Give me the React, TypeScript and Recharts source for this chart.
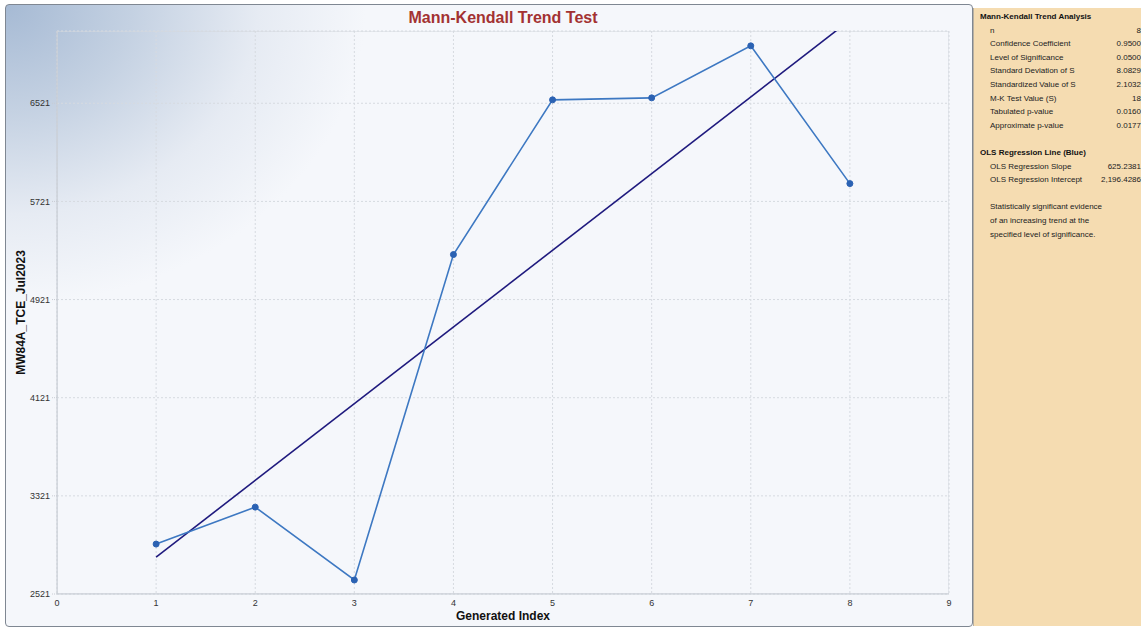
import { LineChart, Line, XAxis, YAxis, CartesianGrid, ReferenceLine, ReferenceArea } from "recharts";

const INDEX = [1, 2, 3, 4, 5, 6, 7, 8];
const TCE = [2928, 3229, 2635, 5288, 6549, 6565, 6989, 5866];
const X_TICKS = [0, 1, 2, 3, 4, 5, 6, 7, 8, 9];
const Y_TICKS = [2521, 3321, 4121, 4921, 5721, 6521];
const Y_MIN = 2521;
const Y_MAX = 7110;

const OLS_SLOPE = 625.2381;
const OLS_INTERCEPT = 2196.4286;

const MK_LABELS = [
  "n",
  "Confidence Coefficient",
  "Level of Significance",
  "Standard Deviation of S",
  "Standardized Value of S",
  "M-K Test Value (S)",
  "Tabulated p-value",
  "Approximate p-value",
];
const MK_VALUES = ["8", "0.9500", "0.0500", "8.0829", "2.1032", "18", "0.0160", "0.0177"];
const OLS_LABELS = ["OLS Regression Slope", "OLS Regression Intercept"];
const OLS_VALUES = ["625.2381", "2,196.4286"];
const CONCLUSION = [
  "Statistically significant evidence",
  "of an increasing trend at the",
  "specified level of significance.",
];

const FONT = "'Liberation Sans', Arial, sans-serif";

const data = INDEX.map((x, i) => ({ x, y: TCE[i] }));
const olsAt = (x: number) => OLS_INTERCEPT + OLS_SLOPE * x;

function Row({ label, value }: { label: string; value?: string }) {
  return (
    <div style={{ display: "flex", justifyContent: "space-between", paddingLeft: 10 }}>
      <span>{label}</span>
      {value && <span>{value}</span>}
    </div>
  );
}

export default function App() {
  return (
    <div
      style={{
        position: "absolute",
        left: 0,
        top: 0,
        width: 1141,
        height: 630,
        background: "#ffffff",
        fontFamily: FONT,
        overflow: "hidden",
      }}
    >
      <div
        style={{
          position: "absolute",
          left: 5,
          top: 4,
          width: 968,
          height: 623,
          border: "1px solid #7f8792",
          borderRadius: 4,
          boxSizing: "border-box",
          background:
            "radial-gradient(ellipse 360px 300px at 0 0, #a6bad4 0%, #c4d1e2 35%, #e6ebf3 70%, #f5f7fb 100%)",
          backgroundColor: "#f5f7fb",
        }}
      />
      <div
        style={{
          position: "absolute",
          left: 0,
          top: 8,
          width: 1006,
          textAlign: "center",
          color: "#a33232",
          fontWeight: "bold",
          fontSize: 16,
          lineHeight: "20px",
        }}
      >
        Mann-Kendall Trend Test
      </div>
      <div style={{ position: "absolute", left: 0, top: 0 }}>
        <LineChart width={970} height={630} data={data} margin={{ top: 31, right: 21, left: 0, bottom: 6 }}>
          <CartesianGrid stroke="#d6dae0" strokeDasharray="2 2" />
          <ReferenceArea
            x1={0}
            x2={9}
            y1={Y_MIN}
            y2={Y_MAX}
            fill="none"
            stroke="#d3d7de"
            strokeWidth={1}
            ifOverflow="hidden"
          />
          <XAxis
            dataKey="x"
            type="number"
            domain={[0, 9]}
            ticks={X_TICKS}
            interval={0}
            height={30}
            tickLine={false}
            tickSize={0}
            tickMargin={6}
            axisLine={{ stroke: "#c6cbd3" }}
            tick={{ fontSize: 9, fill: "#333", fontFamily: FONT }}
            label={{
              value: "Generated Index",
              position: "insideBottom",
              offset: 4,
              style: { fontSize: 12, fontWeight: "bold", fill: "#111", fontFamily: FONT },
            }}
          />
          <YAxis
            type="number"
            domain={[Y_MIN, Y_MAX]}
            ticks={Y_TICKS}
            interval={0}
            width={57}
            allowDataOverflow
            tickSize={5}
            tickMargin={2}
            tickLine={{ stroke: "#c8ccd3", strokeDasharray: "1 1" }}
            axisLine={{ stroke: "#c6cbd3" }}
            tick={{ fontSize: 9, fill: "#333", fontFamily: FONT }}
            label={{
              value: "MW84A_TCE_Jul2023",
              angle: -90,
              position: "insideLeft",
              offset: 21,
              style: { fontSize: 12, fontWeight: "bold", fill: "#111", fontFamily: FONT, textAnchor: "middle" },
            }}
          />
          <ReferenceLine
            segment={[
              { x: 1, y: olsAt(1) },
              { x: 8, y: olsAt(8) },
            ]}
            stroke="#1f1a7e"
            strokeWidth={1.6}
            ifOverflow="hidden"
          />
          <Line
            type="linear"
            dataKey="y"
            stroke="#3d78c2"
            strokeWidth={1.6}
            dot={{ r: 3, fill: "#2b62b3", stroke: "#2b62b3", strokeWidth: 1 }}
            activeDot={false}
            isAnimationActive={false}
          />
        </LineChart>
      </div>
      <div
        style={{
          position: "absolute",
          left: 973,
          top: 8,
          width: 168,
          height: 618,
          background: "#f5dcb1",
          borderLeft: "1px solid #b9b0a0",
          boxSizing: "border-box",
          paddingTop: 2,
          paddingLeft: 6,
          paddingRight: 0,
          fontSize: 8,
          lineHeight: "13.6px",
          color: "#222",
        }}
      >
        <div style={{ fontWeight: "bold", color: "#111" }}>Mann-Kendall Trend Analysis</div>
        {MK_LABELS.map((l, i) => (
          <Row key={l} label={l} value={MK_VALUES[i]} />
        ))}
        <div style={{ height: 13.6 }} />
        <div style={{ fontWeight: "bold", color: "#111" }}>OLS Regression Line (Blue)</div>
        {OLS_LABELS.map((l, i) => (
          <Row key={l} label={l} value={OLS_VALUES[i]} />
        ))}
        <div style={{ height: 13.6 }} />
        {CONCLUSION.map((l) => (
          <Row key={l} label={l} />
        ))}
      </div>
    </div>
  );
}
